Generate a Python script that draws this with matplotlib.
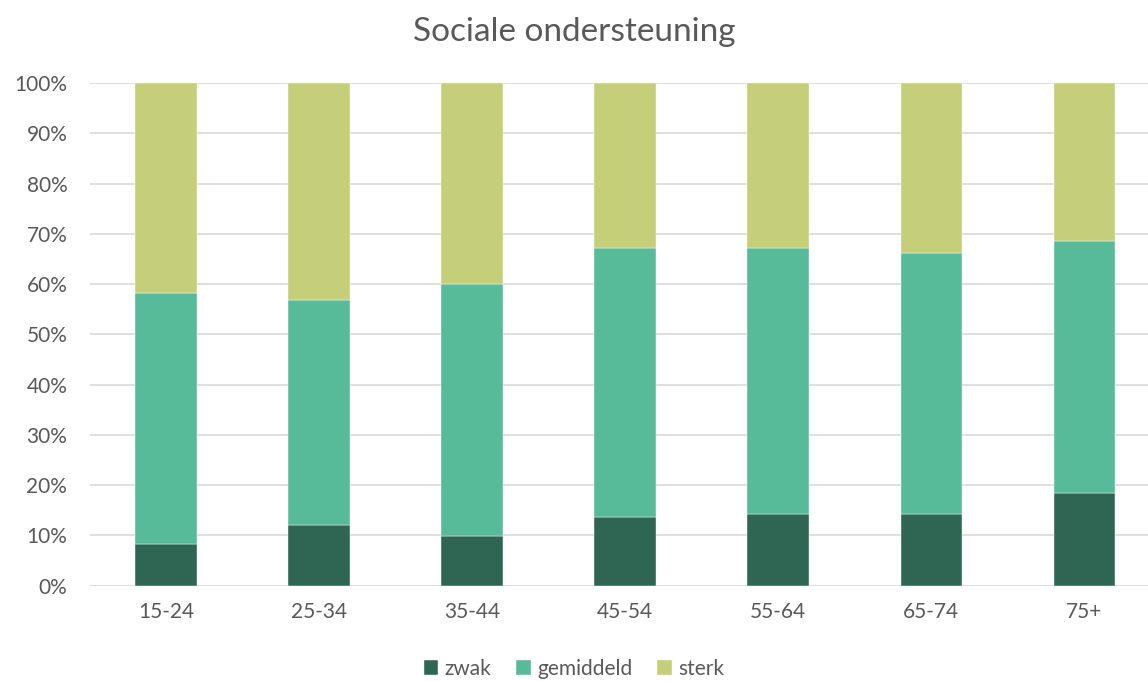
import matplotlib.pyplot as plt
import numpy as np

plt.rcParams['font.family'] = ['Lato', 'DejaVu Sans']

leeftijd = ['15-24', '25-34', '35-44', '45-54', '55-64', '65-74', '75+']
zwak = [8.3, 12.1, 9.8, 13.7, 14.2, 14.2, 18.4]
gemiddeld = [50.0, 44.7, 50.2, 53.4, 52.9, 51.9, 50.1]
sterk = [41.7, 43.2, 40.0, 32.9, 32.9, 33.9, 31.5]

kleuren = ['#2e6653', '#57ba98', '#c5ce78']
tekst = '#595959'

fig = plt.figure(figsize=(11.48, 6.81), dpi=100)
ax = fig.add_axes([0.078, 0.140, 0.933, 0.738])

x = np.arange(len(leeftijd))
bodem = np.zeros(len(leeftijd))
for naam, waarden, kleur in zip(['zwak', 'gemiddeld', 'sterk'], [zwak, gemiddeld, sterk], kleuren):
    ax.bar(x, waarden, 0.4, bottom=bodem, color=kleur, label=naam, zorder=3,
           edgecolor='white', linewidth=0.3)
    bodem = bodem + np.array(waarden)

ax.set_xlim(-0.5, len(leeftijd) - 0.5)
ax.set_ylim(0, 100)
ax.set_yticks(np.arange(0, 101, 10))
ax.set_yticklabels([f'{v}%' for v in range(0, 101, 10)])
ax.set_xticks(x)
ax.set_xticklabels(leeftijd)
ax.grid(axis='y', color='#d9d9d9', linewidth=1.2, zorder=0)
ax.tick_params(length=0, labelsize=15, colors=tekst, pad=12)
ax.tick_params(axis='y', pad=16)
for s in ax.spines.values():
    s.set_visible(False)

fig.text(0.5, 0.953, 'Sociale ondersteuning', ha='center', va='center', fontsize=24, color=tekst)
fig.legend(loc='center', bbox_to_anchor=(0.5, 0.018), ncol=3, frameon=False, fontsize=15,
           labelcolor=tekst, handlelength=0.7, handleheight=0.7, handletextpad=0.3, columnspacing=1.2)

fig.savefig('out.png', dpi=100)
